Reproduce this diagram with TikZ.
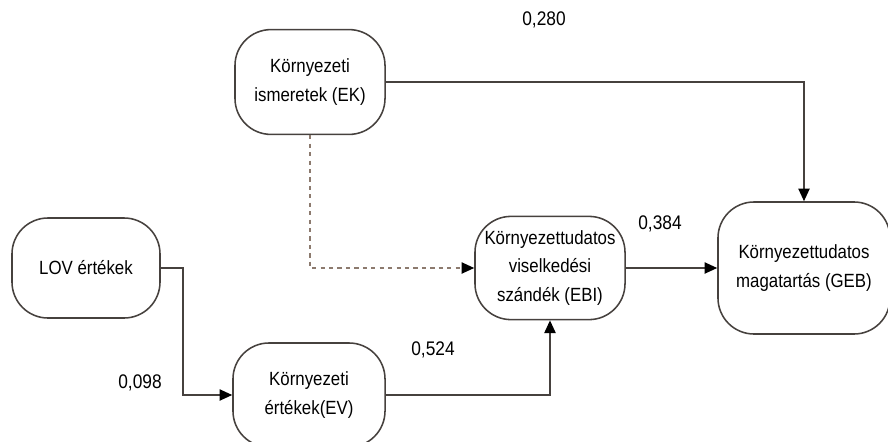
\documentclass[tikz,border=0pt]{standalone}
\usepackage{fontspec}
\setmainfont{Liberation Sans}[FakeStretch=0.88]
\usetikzlibrary{arrows.meta}
\definecolor{boxline}{RGB}{70,65,62}
\definecolor{dashline}{RGB}{140,122,110}

\begin{document}
\begin{tikzpicture}[x=0.025cm, y=-0.025cm,
    box/.style={draw=boxline, line width=1.1pt, rounded corners=0.9cm, align=center,
                font=\fontsize{13.6}{20}\selectfont, inner sep=0pt},
    link/.style={draw=boxline, line width=1.1pt, -{Triangle[length=9pt, width=8pt, color=black, fill=black]}},
    weight/.style={font=\fontsize{14}{16}\selectfont}]
    \useasboundingbox (0,0) rectangle (888,441);

    % Constructs
    \node[box, minimum width=3.75cm, minimum height=2.62cm] (ek) at (310,82) {Környezeti\\ismeretek (EK)};
    \node[box, minimum width=3.7cm, minimum height=2.5cm] (lov) at (86,268) {LOV értékek};
    \node[box, minimum width=3.8cm, minimum height=2.6cm] (ev) at (309,395) {Környezeti\\értékek(EV)};
    \node[box, minimum width=3.75cm, minimum height=2.58cm] (ebi) at (550,268) {Környezettudatos\\viselkedési\\szándék (EBI)};
    \node[box, minimum width=4.3cm, minimum height=3.3cm] (geb) at (804,268) {Környezettudatos\\magatartás (GEB)};

    % Paths
    \draw[link] (ek.east) -| (geb.north);
    \draw[link, draw=dashline, dashed] (ek.south) |- (ebi.west);
    \draw[link] (lov.east) -- ++(22,0) |- (ev.west);
    \draw[link] (ev.east) -| (ebi.south);
    \draw[link] (ebi.east) -- (geb.west);

    % Coefficients
    \node[weight] (w280) at (544,20) {0,280};
    \node[weight] (w098) at (140,383) {0,098};
    \node[weight] (w524) at (433,350) {0,524};
    \node[weight] (w384) at (660,224) {0,384};
\end{tikzpicture}
\end{document}
